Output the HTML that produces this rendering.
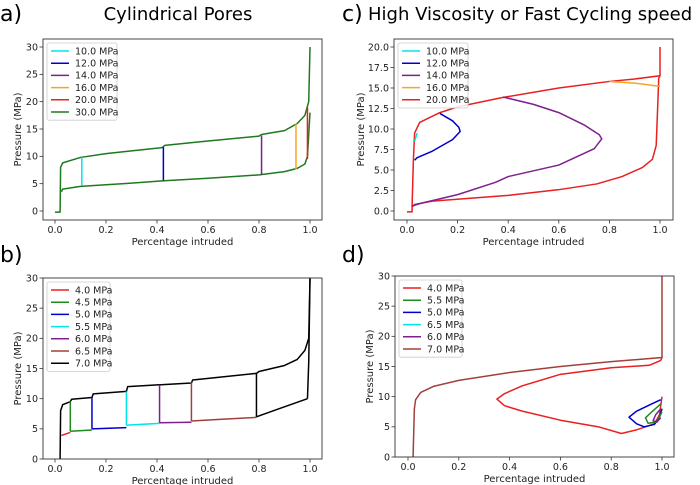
<!DOCTYPE html>
<html><head><meta charset="utf-8"><style>
html,body{margin:0;padding:0;background:#fff;}
svg{display:block;font-family:"DejaVu Sans","Liberation Sans",sans-serif;}
</style></head><body>
<svg id="fig" width="700" height="485" xmlns="http://www.w3.org/2000/svg">
<text x="0" y="21" font-size="22">a)</text>
<text x="178" y="20" font-size="18" text-anchor="middle">Cylindrical Pores</text>
<text x="342" y="21" font-size="22">c)</text>
<text x="368" y="20" font-size="18">High Viscosity or Fast Cycling speed</text>
<text x="0" y="262" font-size="22">b)</text>
<text x="342" y="262" font-size="22">d)</text>
</svg>
<script>
// ---------- data ----------
const xTicks = [0, 0.2, 0.4, 0.6, 0.8, 1.0];
const xTickLabels = ["0.0","0.2","0.4","0.6","0.8","1.0"];
const yTicksA = [0,5,10,15,20,25,30];
const yTicksC = [0,2.5,5,7.5,10,12.5,15,17.5,20];
const yTickLabelsC = ["0.0","2.5","5.0","7.5","10.0","12.5","15.0","17.5","20.0"];

const aLegend = ["10.0 MPa","12.0 MPa","14.0 MPa","16.0 MPa","20.0 MPa","30.0 MPa"];
const aColors = ["#00e5e5","#0000cc","#7f1f8f","#f5a623","#e82020","#1e7a1e"];
const aUpperX = [0,0.02,0.02,0.022,0.03,0.1,0.2,0.3,0.42,0.43,0.6,0.8,0.81,0.9,0.95,0.98,0.995,1.0];
const aUpperY = [-0.2,-0.2,0,8,8.8,9.8,10.5,11,11.6,12,12.8,13.7,14,14.7,16,17.5,20,30];
const aLowerX = [0.025,0.03,0.1,0.2,0.3,0.42,0.6,0.8,0.9,0.95,0.98,0.99,0.995,1.0];
const aLowerY = [3.5,4,4.5,4.8,5.1,5.5,6,6.6,7.2,7.8,8.6,10,14,18];
const aStepX = [0.105,0.425,0.81,0.945,0.99];
const aStepLo = [4.6,5.6,6.6,7.6,9.5];
const aStepHi = [9.8,11.7,13.8,16,19];

const bLegend = ["4.0 MPa","4.5 MPa","5.0 MPa","5.5 MPa","6.0 MPa","6.5 MPa","7.0 MPa"];
const bColors = ["#e82020","#1e8a1e","#0000cc","#00e5e5","#7f1f8f","#a0403a","#000000"];
const bUpperX = [0.02,0.022,0.03,0.06,0.065,0.145,0.15,0.28,0.285,0.41,0.415,0.535,0.54,0.79,0.8,0.9,0.95,0.98,0.995,1.0];
const bUpperY = [0,8,9,9.5,9.9,10.2,10.8,11.2,12,12.3,12.3,12.6,13.1,14.2,14.5,15.5,16.5,18,20,30];
const bStepX = [0.06,0.145,0.28,0.41,0.535,0.79];
const bStepLo = [4.6,5.0,5.6,6.0,6.3,7.0];
const bStepHi = [9.6,10.3,11.2,12.3,12.7,14.3];
const bLowStart = [0.025,0.06,0.145,0.28,0.41,0.535,0.79];
const bLowEnd = [0.06,0.145,0.28,0.41,0.535,0.79,0.99];
const bLowY0 = [3.9,4.6,5.0,5.6,6.0,6.3,7.0];
const bLowY1 = [4.4,4.8,5.2,5.9,6.1,6.9,10];

const cLegend = ["10.0 MPa","12.0 MPa","14.0 MPa","16.0 MPa","20.0 MPa"];
const cColors = ["#00e5e5","#0000cc","#7f1f8f","#f5a623","#e82020"];
const cRedUpX = [0,0.02,0.02,0.025,0.03,0.05,0.13,0.2,0.37,0.6,0.8,0.9,1.0,1.0];
const cRedUpY = [-0.1,-0.1,0.5,6,9.5,10.8,12,12.7,13.8,15,15.8,16.1,16.5,20];
const cRedLoX = [0.02,0.03,0.1,0.4,0.6,0.75,0.85,0.93,0.97,0.985,0.99,0.995,1.0];
const cRedLoY = [0.5,0.8,1.2,1.9,2.6,3.3,4.2,5.3,6.3,8,12,16.2,16.5];
const cPurpX = [0.38,0.5,0.6,0.7,0.76,0.77,0.74,0.6,0.4,0.35,0.2,0.05,0.02];
const cPurpY = [13.9,13,12,10.5,9.3,8.8,7.6,5.6,4.2,3.5,2,0.9,0.6];
const cBlueX = [0.13,0.18,0.205,0.21,0.18,0.1,0.04,0.03];
const cBlueY = [11.9,11,10.2,9.7,8.7,7.3,6.5,6.2];
const cOrX = [0.8,0.9,1.0];
const cOrY = [15.8,15.6,15.2];
const cCyX = [0.04,0.035,0.03];
const cCyY = [9.5,9,8.5];

const dLegend = ["4.0 MPa","5.5 MPa","5.0 MPa","6.5 MPa","6.0 MPa","7.0 MPa"];
const dColors = ["#e82020","#1e8a1e","#0000cc","#00e5e5","#7f1f8f","#a0403a"];
const dBrownX = [0.02,0.025,0.03,0.05,0.1,0.2,0.4,0.6,0.8,1.0,1.0];
const dBrownY = [0,8,9.5,10.7,11.7,12.7,14,15,15.8,16.5,30];
const dRedX = [1.0,0.995,0.95,0.8,0.6,0.45,0.38,0.35,0.38,0.45,0.6,0.75,0.84,0.9,0.97,0.99,1.0];
const dRedY = [16.5,16,15.2,14.8,13.7,11.8,10.5,9.6,8.5,7.6,6.1,5,3.9,4.5,5.5,7,10];
const dBlueX = [0.995,0.95,0.9,0.87,0.9,0.93,0.97,0.99,1.0];
const dBlueY = [9.5,8.6,7.6,6.6,5.5,5,5.4,6.5,8];
const dGreenX = [0.995,0.96,0.935,0.945,0.98,1.0];
const dGreenY = [8.8,7.5,6.5,5.6,5.8,7.5];
const dPurpX = [0.995,0.975,0.965,0.98,0.995];
const dPurpY = [8,7,6,5.8,6.5];

// ---------- drawing ----------
const NS="http://www.w3.org/2000/svg";
const fig=document.getElementById('fig');
function mk(tag,attrs,parent){const e=document.createElementNS(NS,tag);for(const k in attrs)e.setAttribute(k,attrs[k]);(parent||fig).appendChild(e);return e;}

function makeAxes(name,box,x0px,x1px,yMin,yMax,yMinPx,yMaxPx,yTicks,yLabels){
  const g=mk('g',{});
  
  
  const sx=v=>x0px+(x1px-x0px)*v;
  const sy=v=>yMinPx-(yMinPx-yMaxPx)*(v-yMin)/(yMax-yMin);
  const ax={g,sx,sy,box};
  xTicks.forEach((t,i)=>{
    mk('line',{x1:sx(t),x2:sx(t),y1:box.y1,y2:box.y1+3.5,stroke:'#333','stroke-width':0.8},g);
    const tx=mk('text',{x:sx(t),y:box.y1+13,'font-size':9.5,'text-anchor':'middle',fill:'#222'},g);
    tx.textContent=xTickLabels[i];
    
    
  });
  yTicks.forEach((t,i)=>{
    mk('line',{x1:box.x0-3.5,x2:box.x0,y1:sy(t),y2:sy(t),stroke:'#333','stroke-width':0.8},g);
    const tx=mk('text',{x:box.x0-5,y:sy(t)+3.3,'font-size':9.5,'text-anchor':'end',fill:'#222'},g);
    tx.textContent=yLabels[i];
    
    
  });
  const xl=mk('text',{x:(box.x0+box.x1)/2,y:box.y1+25,'font-size':10,'text-anchor':'middle',fill:'#222'},g);
  xl.textContent='Percentage intruded';
  
  
  const cy=(box.y0+box.y1)/2, cx=box.x0-(yLabels[yLabels.length-1].length>2?30:22);
  const yl=mk('text',{x:cx,y:cy,'font-size':10,'text-anchor':'middle',fill:'#222',transform:`rotate(-90 ${cx} ${cy})`},g);
  yl.textContent='Pressure (MPa)';
  
  
  ax.plot=mk('g',{},g);
  return ax;
}
function finishAxes(ax){
  const b=ax.box;
  const r=mk('rect',{x:b.x0,y:b.y0,width:b.x1-b.x0,height:b.y1-b.y0,fill:'none',stroke:'#333','stroke-width':0.9},ax.g);
  
  
}
function line(ax,xs,ys,color,name,w){
  const pts=xs.map((x,i)=>ax.sx(x).toFixed(2)+','+ax.sy(ys[i]).toFixed(2)).join(' ');
  const p=mk('polyline',{points:pts,fill:'none',stroke:color,'stroke-width':w||1.5,'stroke-linejoin':'round'},ax.plot);
  
  
}
function legend(ax,labels,colors,x,y,w){
  const lg=mk('g',{},ax.g);
  
  
  const rowH=12.2;
  mk('rect',{x,y,width:w,height:labels.length*rowH+4,fill:'#fff','fill-opacity':0.85,stroke:'#ccc','stroke-width':0.8,rx:2},lg);
  labels.forEach((l,i)=>{
    const yy=y+8+i*rowH;
    mk('line',{x1:x+4,x2:x+22,y1:yy,y2:yy,stroke:colors[i],'stroke-width':1.5},lg);
    const t=mk('text',{x:x+28,y:yy+3.3,'font-size':9.5,fill:'#222'},lg);
    t.textContent=l;
    
    
  });
}

// Panel a
const A=makeAxes('panel-a-chart',{x0:43,x1:322,y0:39,y1:220},55,310,0,30,211,47,yTicksA,yTicksA.map(String));
line(A,aUpperX,aUpperY,aColors[5],'upper-curve-30mpa');
line(A,aLowerX,aLowerY,aColors[5],'lower-curve-30mpa');
aStepX.forEach((x,i)=>line(A,[x,x],[aStepLo[i],aStepHi[i]],aColors[i],'reversal-'+i));
finishAxes(A);
legend(A,aLegend,aColors,47,43,70);

// Panel b
const B=makeAxes('panel-b-chart',{x0:43,x1:322,y0:278,y1:459},55,310,0,30,459,278,yTicksA,yTicksA.map(String));
line(B,bUpperX,bUpperY,bColors[6],'upper-curve-7mpa');
bLowStart.forEach((s,i)=>line(B,[s,(s+bLowEnd[i])/2,bLowEnd[i]],[bLowY0[i],(bLowY0[i]+bLowY1[i])/2,bLowY1[i]],bColors[i],'lower-segment-'+i));
line(B,[0.99,0.995,1.0],[10,16,30],bColors[6],'lower-tail');
bStepX.forEach((x,i)=>line(B,[x,x],[bStepLo[i],bStepHi[i]],bColors[i+1],'reversal-'+i));
finishAxes(B);
legend(B,bLegend,bColors,47,282,63);

// Panel c
const C=makeAxes('panel-c-chart',{x0:394,x1:673,y0:39,y1:220},407,660,0,20,211,47,yTicksC,yTickLabelsC);
line(C,cRedUpX,cRedUpY,cColors[4],'intrusion-curve-20mpa');
line(C,cRedLoX,cRedLoY,cColors[4],'extrusion-curve-20mpa');
line(C,cPurpX,cPurpY,cColors[2],'curve-14mpa');
line(C,cBlueX,cBlueY,cColors[1],'curve-12mpa');
line(C,cOrX,cOrY,cColors[3],'curve-16mpa');
line(C,cCyX,cCyY,cColors[0],'curve-10mpa');
finishAxes(C);
legend(C,cLegend,cColors,398,43,70);

// Panel d
const D=makeAxes('panel-d-chart',{x0:395,x1:674,y0:276,y1:457},408,662,0,30,457,276,yTicksA,yTicksA.map(String));
line(D,dRedX,dRedY,dColors[0],'curve-4mpa');
line(D,dBlueX,dBlueY,dColors[2],'curve-5mpa');
line(D,dGreenX,dGreenY,dColors[1],'curve-5-5mpa');
line(D,dPurpX,dPurpY,dColors[4],'curve-6mpa');
line(D,dBrownX,dBrownY,dColors[5],'curve-7mpa');
finishAxes(D);
legend(D,dLegend,dColors,399,280,63);
</script>
</body></html>
